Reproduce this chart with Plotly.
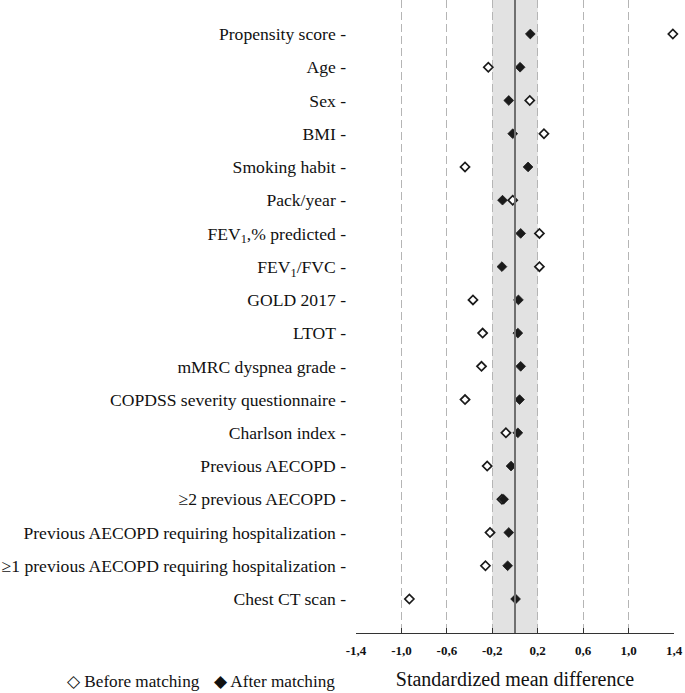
import plotly.graph_objects as go

categories = [
    "Propensity score", "Age", "Sex", "BMI", "Smoking habit", "Pack/year",
    "FEV<sub>1</sub>,% predicted", "FEV<sub>1</sub>/FVC", "GOLD 2017", "LTOT",
    "mMRC dyspnea grade", "COPDSS severity questionnaire", "Charlson index",
    "Previous AECOPD", "≥2 previous AECOPD",
    "Previous AECOPD requiring hospitalization",
    "≥1 previous AECOPD requiring hospitalization", "Chest CT scan",
]
before_matching = [1.39, -0.235, 0.13, 0.255, -0.44, -0.02,
                   0.215, 0.215, -0.37, -0.285, -0.295, -0.44, -0.08,
                   -0.245, -0.115, -0.22, -0.26, -0.93]
after_matching = [0.135, 0.045, -0.055, -0.02, 0.115, -0.11,
                  0.05, -0.115, 0.03, 0.025, 0.05, 0.04, 0.025,
                  -0.035, -0.10, -0.055, -0.065, 0.005]
x_tick_vals = [-1.4, -1.0, -0.6, -0.2, 0.2, 0.6, 1.0, 1.4]
x_tick_text = ["-1,4", "-1,0", "-0,6", "-0,2", "0,2", "0,6", "1,0", "1,4"]
legend_labels = ["◇ Before matching", "◆ After matching"]

FONT = "Liberation Serif"
INK = "#111111"
idx = list(range(len(categories)))

fig = go.Figure()
fig.add_trace(go.Scatter(
    x=before_matching, y=idx, mode="markers", name="Before matching",
    marker=dict(symbol="diamond", size=7, color="white",
                line=dict(color="#1a1a1a", width=1.7)),
    showlegend=False, cliponaxis=False,
))
fig.add_trace(go.Scatter(
    x=after_matching, y=idx, mode="markers", name="After matching",
    marker=dict(symbol="diamond", size=7.5, color="#1a1a1a",
                line=dict(color="#1a1a1a", width=0.8)),
    showlegend=False, cliponaxis=False,
))

fig.add_vrect(x0=-0.2, x1=0.2, fillcolor="#e2e2e2", line_width=0, layer="below")
fig.add_vline(x=0, line=dict(color="#707070", width=2))

# legend drawn as a text row under the category labels
fig.add_annotation(text=legend_labels[0], xref="paper", yref="paper",
                   x=-0.915, y=-0.0765, xanchor="left", yanchor="middle",
                   showarrow=False, font=dict(family=FONT, size=17.2, color=INK))
fig.add_annotation(text=legend_labels[1], xref="paper", yref="paper",
                   x=-0.453, y=-0.0765, xanchor="left", yanchor="middle",
                   showarrow=False, font=dict(family=FONT, size=17.2, color=INK))

fig.update_layout(
    width=685, height=693,
    margin=dict(l=356, r=11, t=0, b=60, autoexpand=False),
    paper_bgcolor="white", plot_bgcolor="white",
    font=dict(family=FONT, color=INK),
    showlegend=False,
    xaxis=dict(
        range=[-1.4, 1.4], tickvals=x_tick_vals,
        ticktext=["<b>" + t + "</b>" for t in x_tick_text],
        tickfont=dict(family=FONT, size=13, color=INK),
        showgrid=True, gridcolor="#b5b5b5", griddash="8px,4px", gridwidth=1,
        zeroline=False, showline=True, linecolor="#333333", linewidth=1.2,
        ticks="inside", ticklen=5, tickcolor="#333333",
        ticklabelstandoff=5,
        title=dict(text="Standardized mean difference",
                   font=dict(family=FONT, size=20, color=INK), standoff=15),
    ),
    yaxis=dict(
        range=[18.023, -1.023], tickvals=idx,
        ticktext=[c + " -" for c in categories],
        tickfont=dict(family=FONT, size=17.6, color=INK),
        showgrid=False, zeroline=False, showline=False, ticks="",
        ticklabelstandoff=9,
    ),
)

fig.write_html("out.html", config={"displayModeBar": False},
               post_script="document.body.style.margin='0px';")
